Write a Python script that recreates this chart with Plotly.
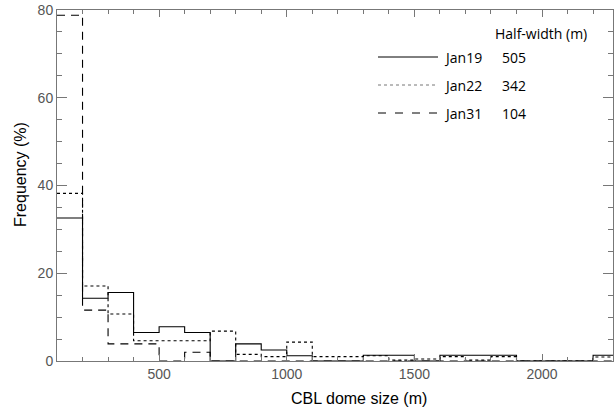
import plotly.graph_objects as go

# Bin edges (m): 100-200, 200-300, ..., 2200-2300
bin_left = [100, 200, 300, 400, 500, 600, 700, 800, 900, 1000, 1100,
            1200, 1300, 1400, 1500, 1600, 1700, 1800, 1900, 2000, 2100, 2200]
bin_width = 100

jan19 = [32.6, 14.3, 15.6, 6.5, 7.8, 6.5, 0.0, 3.9, 2.5, 1.2, 0.0,
         0.0, 1.3, 1.3, 0.0, 1.3, 1.3, 1.3, 0.0, 0.0, 0.0, 1.3]
jan22 = [38.2, 17.1, 10.7, 4.6, 4.6, 4.6, 6.8, 1.5, 1.0, 4.3, 1.0,
         1.0, 1.2, 0.2, 0.45, 1.0, 0.2, 1.0, 0.0, 0.0, 0.0, 0.9]
jan31 = [78.8, 11.6, 3.9, 3.9, 0.0, 2.0, 0.0, 0.0, 0.0, 0.0, 0.0,
         0.0, 0.0, 0.0, 0.0, 0.0, 0.0, 0.0, 0.0, 0.0, 0.0, 0.0]

series_names = ["Jan19", "Jan22", "Jan31"]
half_widths = ["505", "342", "104"]
dashes = ["solid", "dot", "8px,6px"]

x_ticks = [500, 1000, 1500, 2000]
y_ticks = [0, 20, 40, 60, 80]

fig = go.Figure()
edges = bin_left + [bin_left[-1] + bin_width]
for vals, name, dash in zip([jan19, jan22, jan31], series_names, dashes):
    fig.add_trace(go.Scatter(
        x=edges, y=vals + [vals[-1]], mode="lines", line_shape="hv",
        line=dict(color="black", width=1.1, dash=dash),
        name=name, showlegend=False, hoverinfo="skip"))

tickfont = dict(family="Liberation Sans, Arial, sans-serif", size=14, color="#555555")
titlefont = dict(family="Liberation Sans, Arial, sans-serif", size=16, color="black")
axcol = "#777777"

fig.update_xaxes(range=[100, 2278], showgrid=False, zeroline=False,
                 showline=True, linecolor=axcol, linewidth=1, mirror="ticks",
                 ticks="inside", ticklen=7, tickcolor=axcol, tickwidth=1,
                 tickvals=x_ticks, tickfont=tickfont,
                 minor=dict(dtick=100, tick0=0, ticks="inside", ticklen=4,
                            tickcolor=axcol, tickwidth=1))
fig.update_yaxes(range=[0, 80], showgrid=False, zeroline=False,
                 showline=True, linecolor=axcol, linewidth=1, mirror="ticks",
                 ticks="inside", ticklen=10, tickcolor=axcol, tickwidth=1,
                 tickvals=y_ticks, tickfont=tickfont,
                 minor=dict(dtick=5, ticks="inside", ticklen=5,
                            tickcolor=axcol, tickwidth=1))

W, H = 614, 407
L, R, T, B = 57, 1, 10, 46
pw, ph = W - L - R, H - T - B

def px(xpix):
    return (xpix - L) / pw

def py(ypix):
    return (H - B - ypix) / ph

# Axis titles
fig.add_annotation(x=px(359), y=py(398), xref="paper", yref="paper",
                   text="CBL dome size (m)", showarrow=False,
                   xanchor="center", yanchor="middle", font=titlefont)
fig.add_annotation(x=px(20), y=py(175), xref="paper", yref="paper",
                   text="Frequency (%)", showarrow=False, textangle=-90,
                   xanchor="center", yanchor="middle", font=titlefont)

# Legend drawn as annotations + line samples (paper coordinates)
legfont = dict(family="Open Sans, sans-serif", size=14, color="black")
fig.add_annotation(x=px(493), y=py(34), xref="paper", yref="paper",
                   text="Half-width (m)", showarrow=False, xanchor="left",
                   yanchor="middle", font=legfont)
rows_y = [57, 85, 113]
leg_dash = ["solid", "dot", "8px,9px"]
leg_col = ["black", "#777777", "black"]
for name, hw, dash, col, yy in zip(series_names, half_widths, leg_dash, leg_col, rows_y):
    fig.add_shape(type="line", xref="paper", yref="paper",
                  x0=px(378), x1=px(438), y0=py(yy), y1=py(yy),
                  line=dict(color=col, width=1, dash=dash))
    fig.add_annotation(x=px(442), y=py(yy), xref="paper", yref="paper",
                       text=name, showarrow=False, xanchor="left",
                       yanchor="middle", font=legfont)
    fig.add_annotation(x=px(500), y=py(yy), xref="paper", yref="paper",
                       text=hw, showarrow=False, xanchor="left",
                       yanchor="middle", font=legfont)

fig.update_layout(width=W, height=H, margin=dict(l=L, r=R, t=T, b=B),
                  plot_bgcolor="white", paper_bgcolor="white")

fig.write_html("out.html")
